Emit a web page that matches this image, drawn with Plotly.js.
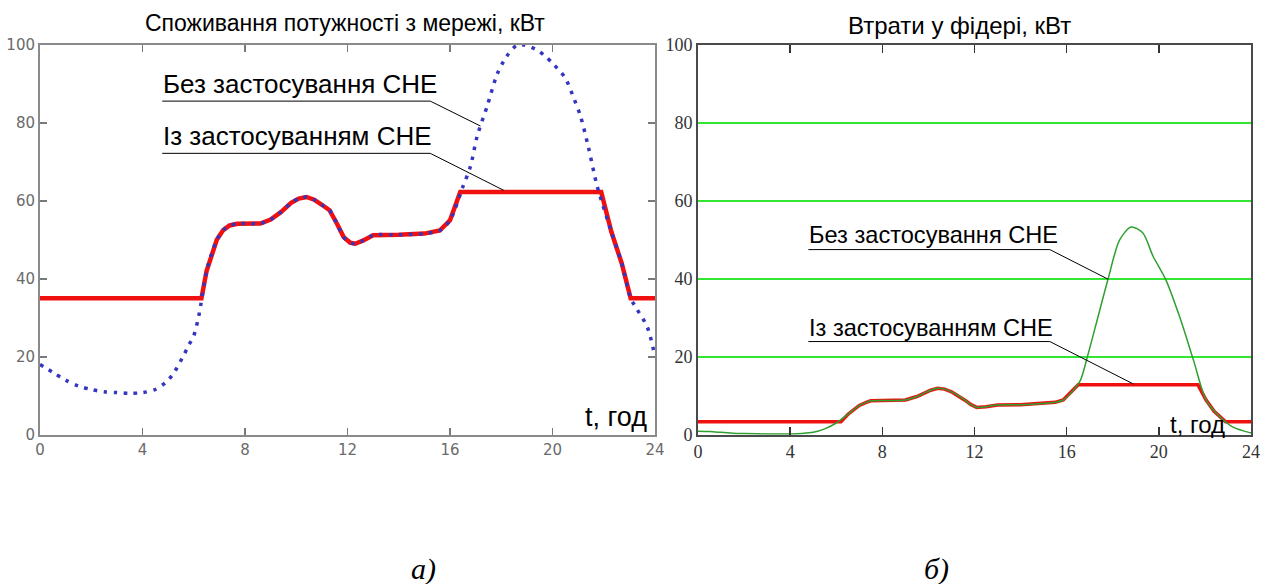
<!DOCTYPE html>
<html>
<head>
<meta charset="utf-8">
<script src="https://cdn.plot.ly/plotly-3.0.1.min.js"></script>
<style>html,body{margin:0;padding:0;background:#fff;}#chart{width:1275px;height:584px;}</style>
</head>
<body>
<div id="chart"></div>
<script>
// ---- Data: (a) power consumption from grid, kW ----
const tWithoutA = [0,0.5,1,1.5,2,2.5,3,3.5,4,4.5,4.9,5.2,5.6,5.8,6.0,6.2,6.5,6.7,6.9,7.15,7.4,7.7,8,8.6,9.0,9.4,9.8,10.1,10.4,10.7,11.0,11.3,11.6,11.85,12.1,12.3,12.6,13,14,15,15.6,16,16.5,16.8,17.06,17.45,17.84,18.2,18.6,18.9,19.4,19.7,20.05,20.5,20.8,21.1,21.4,21.75,22.3,22.7,23.05,23.25,23.7,24];
const pWithoutA = [18,16,14,12.5,11.6,11,10.8,10.6,10.8,11.6,13.4,15.6,20.3,22.9,25.4,30.6,42,46.5,50,52.5,53.7,54.1,54.2,54.2,55.2,57.1,59.5,60.6,61,60.3,59,57.6,54,50.7,49.3,49,49.8,51.2,51.3,51.6,52.4,55,63.6,68.9,76.6,84.3,92.5,97,99.9,100,98.7,97.2,95,91.5,86.9,81.6,73.8,63.6,52,44,35,32.7,27.6,20];
const tWithA = [0,6.3,6.5,6.7,6.9,7.15,7.4,7.7,8,8.6,9.0,9.4,9.8,10.1,10.4,10.7,11.0,11.3,11.6,11.85,12.1,12.3,12.6,13,14,15,15.6,16,16.4,21.9,22.3,22.7,23.05,24];
const pWithA = [35,35,42,46.5,50,52.5,53.7,54.1,54.2,54.2,55.2,57.1,59.5,60.6,61,60.3,59,57.6,54,50.7,49.3,49,49.8,51.2,51.3,51.6,52.4,55,62.3,62.3,52,44,35,35];

// ---- Data: (b) losses in feeder, kW ----
const tWithoutB = [0,0.5,1,1.5,2,3,4,4.5,5,5.5,6,6.5,6.8,7,7.3,7.5,8,8.6,9,9.5,9.8,10.1,10.4,10.7,11,11.3,11.6,11.85,12.1,12.5,13,14,15,15.5,15.85,16.3,16.6,16.9,17.35,17.8,18.3,18.8,19.3,19.75,20.3,20.9,21.5,22.05,22.65,23.2,23.9,24];
const lWithoutB = [0.9,0.8,0.6,0.4,0.3,0.2,0.2,0.3,0.6,1.5,3,5.2,6.6,7.5,8.3,8.7,8.8,8.8,8.9,9.8,10.6,11.4,11.9,11.7,11,10,8.8,7.7,7,7.2,7.6,7.7,8.0,8.3,8.9,11.5,14,20,30,40,50,53.3,51.8,45.8,39.8,30.3,19.2,8.9,4.6,2.0,0.6,0.5];
const tWithB = [0,6.2,6.5,6.8,7,7.3,7.5,8,8.6,9,9.5,9.8,10.1,10.4,10.7,11,11.3,11.6,11.85,12.1,12.5,13,14,15,15.5,15.85,16.3,16.5,21.7,22.05,22.4,22.9,24];
const lWithB = [3.3,3.3,5.2,6.6,7.5,8.3,8.7,8.8,8.8,8.9,9.8,10.6,11.4,11.9,11.7,11,10,8.8,7.7,7,7.2,7.6,7.7,8.0,8.3,8.9,11.5,12.8,12.8,8.9,6,3.3,3.3];

// ---- Labels ----
const xTicks = [0,4,8,12,16,20,24];
const yTicks = [0,20,40,60,80,100];
const titleA = 'Споживання потужності з мережі, кВт';
const titleB = 'Втрати у фідері, кВт';
const labelWithout = 'Без застосування СНЕ';
const labelWith = 'Із застосуванням СНЕ';
const xLabel = 't, год';
const panelA = 'а)';
const panelB = 'б)';

const traces = [
  {x: tWithA, y: pWithA, xaxis:'x', yaxis:'y', mode:'lines', line:{color:'#f01010', width:4.5}},
  {x: tWithoutA, y: pWithoutA, xaxis:'x', yaxis:'y', mode:'lines', line:{color:'#3535c0', width:3.5, dash:'3.5px,6.5px', shape:'spline', smoothing:0.8}},
  {x: tWithB, y: lWithB, xaxis:'x2', yaxis:'y2', mode:'lines', line:{color:'#f01010', width:3.5}},
  {x: tWithoutB, y: lWithoutB, xaxis:'x2', yaxis:'y2', mode:'lines', line:{color:'#2f9f2f', width:1.5, shape:'spline', smoothing:0.8}}
];

const yBot = (584-434.7)/584, yTop = (584-45)/584;
const axA = {showgrid:false, zeroline:false, showline:true, mirror:'ticks', linecolor:'#8a8a8a', linewidth:2,
  ticks:'inside', ticklen:7, tickwidth:1.5, tickcolor:'#7a7a7a', tickfont:{family:'DejaVu Sans', size:15, color:'#6a6a6a'}};
const axB = {zeroline:false, showline:true, mirror:'ticks', linecolor:'#4a4a4a', linewidth:2,
  tickfont:{family:'Liberation Serif', size:18, color:'#333'}};

const shapesLine = (xr, yr, pts) => pts.map(p => ({type:'line', xref:xr, yref:yr, x0:p[0], y0:p[1], x1:p[2], y1:p[3], line:{color:'#000', width:1}}));

const txt = (xr, yr, x, y, text, size, family, xanchor) => ({xref:xr, yref:yr, x:x, y:y, text:text, showarrow:false,
  xanchor:xanchor || 'center', yanchor:'middle', font:{family:family || 'Liberation Sans', size:size, color:'#000'}});

const layout = {
  width:1275, height:584, margin:{l:0,r:0,t:0,b:0}, paper_bgcolor:'#fff', plot_bgcolor:'#fff',
  showlegend:false, hovermode:false,
  xaxis: Object.assign({}, axA, {domain:[40/1275, 655/1275], range:[0,24], tickvals:xTicks, anchor:'y'}),
  yaxis: Object.assign({}, axA, {domain:[yBot, yTop], range:[0,100], tickvals:yTicks, anchor:'x'}),
  xaxis2: Object.assign({}, axB, {domain:[698/1275, 1251/1275], range:[0,24], tickvals:xTicks, anchor:'y2', showgrid:false,
    ticks:'inside', ticklen:8, tickwidth:1.5, tickcolor:'#333'}),
  yaxis2: Object.assign({}, axB, {domain:[yBot, yTop], range:[0,100], tickvals:yTicks, anchor:'x2', showgrid:true, gridcolor:'#33e633', gridwidth:1.5, ticks:''}),
  annotations: [
    txt('paper','paper', 345/1275, 1-23/584, titleA, 23),
    txt('paper','paper', 959/1275, 1-25/584, titleB, 24),
    txt('x','y', 4.72, 89.9, labelWithout, 26, null, 'left'),
    txt('x','y', 4.72, 76.6, labelWith, 26, null, 'left'),
    txt('x2','y2', 4.72, 51.3, labelWithout, 23.6, null, 'left'),
    txt('x2','y2', 4.72, 27.4, labelWith, 23.6, null, 'left'),
    txt('x','y', 22.47, 4.6, xLabel, 27),
    txt('x2','y2', 21.67, 2.6, xLabel, 24),
    txt('paper','paper', 424/1275, 1-569/584, '<i>'+panelA+'</i>', 30, 'Liberation Serif'),
    txt('paper','paper', 936/1275, 1-569/584, '<i>'+panelB+'</i>', 30, 'Liberation Serif')
  ],
  shapes: [].concat(
    shapesLine('x','y', [[4.77,85.6,15.23,85.6],[15.23,85.6,17.19,79.2],[4.77,72.2,15.23,72.2],[15.23,72.2,18.1,62.7]]),
    shapesLine('x2','y2', [[4.79,47.5,15.27,47.5],[15.27,47.5,17.8,39.9],[4.79,23.9,15.27,23.9],[15.27,23.9,18.9,13.0]])
  )
};

Plotly.newPlot('chart', traces, layout, {staticPlot:true, displayModeBar:false});
</script>
</body>
</html>
